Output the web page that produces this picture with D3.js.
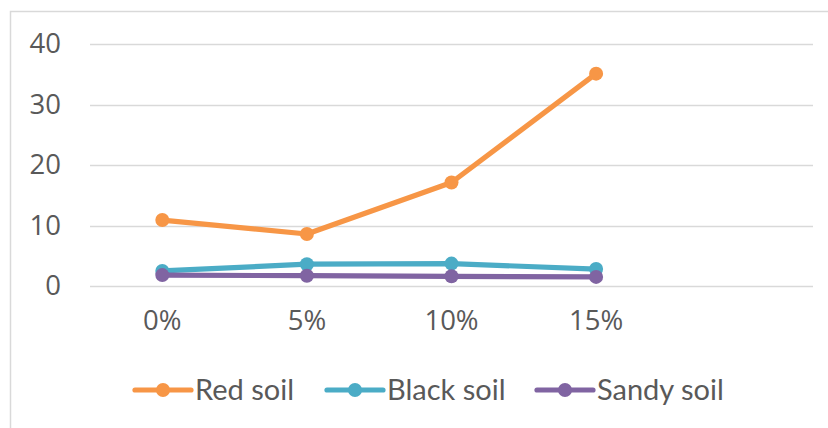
<!DOCTYPE html>
<html>
<head>
<meta charset="utf-8">
<script src="https://cdn.jsdelivr.net/npm/d3@7"></script>
<style>
  body { margin: 0; background: #fff; }
  svg { display: block; }
  text { fill: #595959; }
</style>
</head>
<body>
<div id="chart"></div>
<script>
// categories (last slot is empty, like in the original sheet)
var categories = ["0%", "5%", "10%", "15%", ""];
var seriesNames = ["Red soil", "Black soil", "Sandy soil"];
var redSoil = [10.9, 8.6, 17.1, 35.1];
var blackSoil = [2.5, 3.6, 3.7, 2.8];
var sandySoil = [1.8, 1.7, 1.6, 1.5];
var yTicks = [0, 10, 20, 30, 40];
var colors = ["#F79646", "#4BACC6", "#8064A2"];

var W = 828, H = 428;
var svg = d3.select("#chart").append("svg").attr("width", W).attr("height", H);

// chart frame (only left + top visible in the crop)
svg.append("rect")
    .attr("x", 10.5).attr("y", 11.5)
    .attr("width", W + 20).attr("height", H + 20)
    .attr("fill", "none").attr("stroke", "#D9D9D9").attr("stroke-width", 1.5);

var x = d3.scaleBand().domain(categories).range([90, 813]);
var y = d3.scaleLinear().domain([0, 40]).range([286, 44]);

// gridlines
svg.append("g").selectAll("line").data(yTicks).enter().append("line")
    .attr("x1", 90).attr("x2", 813)
    .attr("y1", function(d){ return Math.round(y(d)) + 0.5; })
    .attr("y2", function(d){ return Math.round(y(d)) + 0.5; })
    .attr("stroke", "#D9D9D9").attr("stroke-width", 1.5);

// y axis labels
var yAxis = d3.axisLeft(y).tickValues(yTicks).tickSize(0).tickPadding(0);
var gy = svg.append("g").attr("transform", "translate(61,0)").call(yAxis);
gy.select(".domain").remove();
gy.selectAll("text")
    .attr("font-family", "'Open Sans', sans-serif").attr("font-size", 27.5)
    .attr("fill", "#595959");

// x axis labels
var xAxis = d3.axisBottom(x).tickSize(0).tickPadding(0);
var gx = svg.append("g").attr("transform", "translate(0,310)").call(xAxis);
gx.select(".domain").remove();
gx.selectAll("text")
    .attr("font-family", "'Open Sans', sans-serif").attr("font-size", 27.5)
    .attr("fill", "#595959");

var allSeries = [redSoil, blackSoil, sandySoil];
var line = d3.line()
    .x(function(d, i){ return x(categories[i]) + x.bandwidth() / 2; })
    .y(function(d){ return y(d); });

allSeries.forEach(function(vals, k){
    var g = svg.append("g");
    g.append("path").datum(vals)
        .attr("d", line)
        .attr("fill", "none")
        .attr("stroke", colors[k])
        .attr("stroke-width", 5.2)
        .attr("stroke-linejoin", "round");
    g.selectAll("circle").data(vals).enter().append("circle")
        .attr("cx", function(d, i){ return x(categories[i]) + x.bandwidth() / 2; })
        .attr("cy", function(d){ return y(d); })
        .attr("r", 7)
        .attr("fill", colors[k]);
});

// legend
var legendX = [135, 327, 537];
var leg = svg.append("g");
seriesNames.forEach(function(name, k){
    var g = leg.append("g").attr("transform", "translate(" + legendX[k] + ",390)");
    g.append("line").attr("x1", 0).attr("x2", 56).attr("y1", 0).attr("y2", 0)
        .attr("stroke", colors[k]).attr("stroke-width", 5.2).attr("stroke-linecap", "round");
    g.append("circle").attr("cx", 28).attr("cy", 0).attr("r", 7).attr("fill", colors[k]);
    g.append("text").attr("x", 60).attr("y", 10)
        .attr("font-family", "Lato, sans-serif").attr("font-size", 29)
        .text(name);
});
</script>
</body>
</html>
